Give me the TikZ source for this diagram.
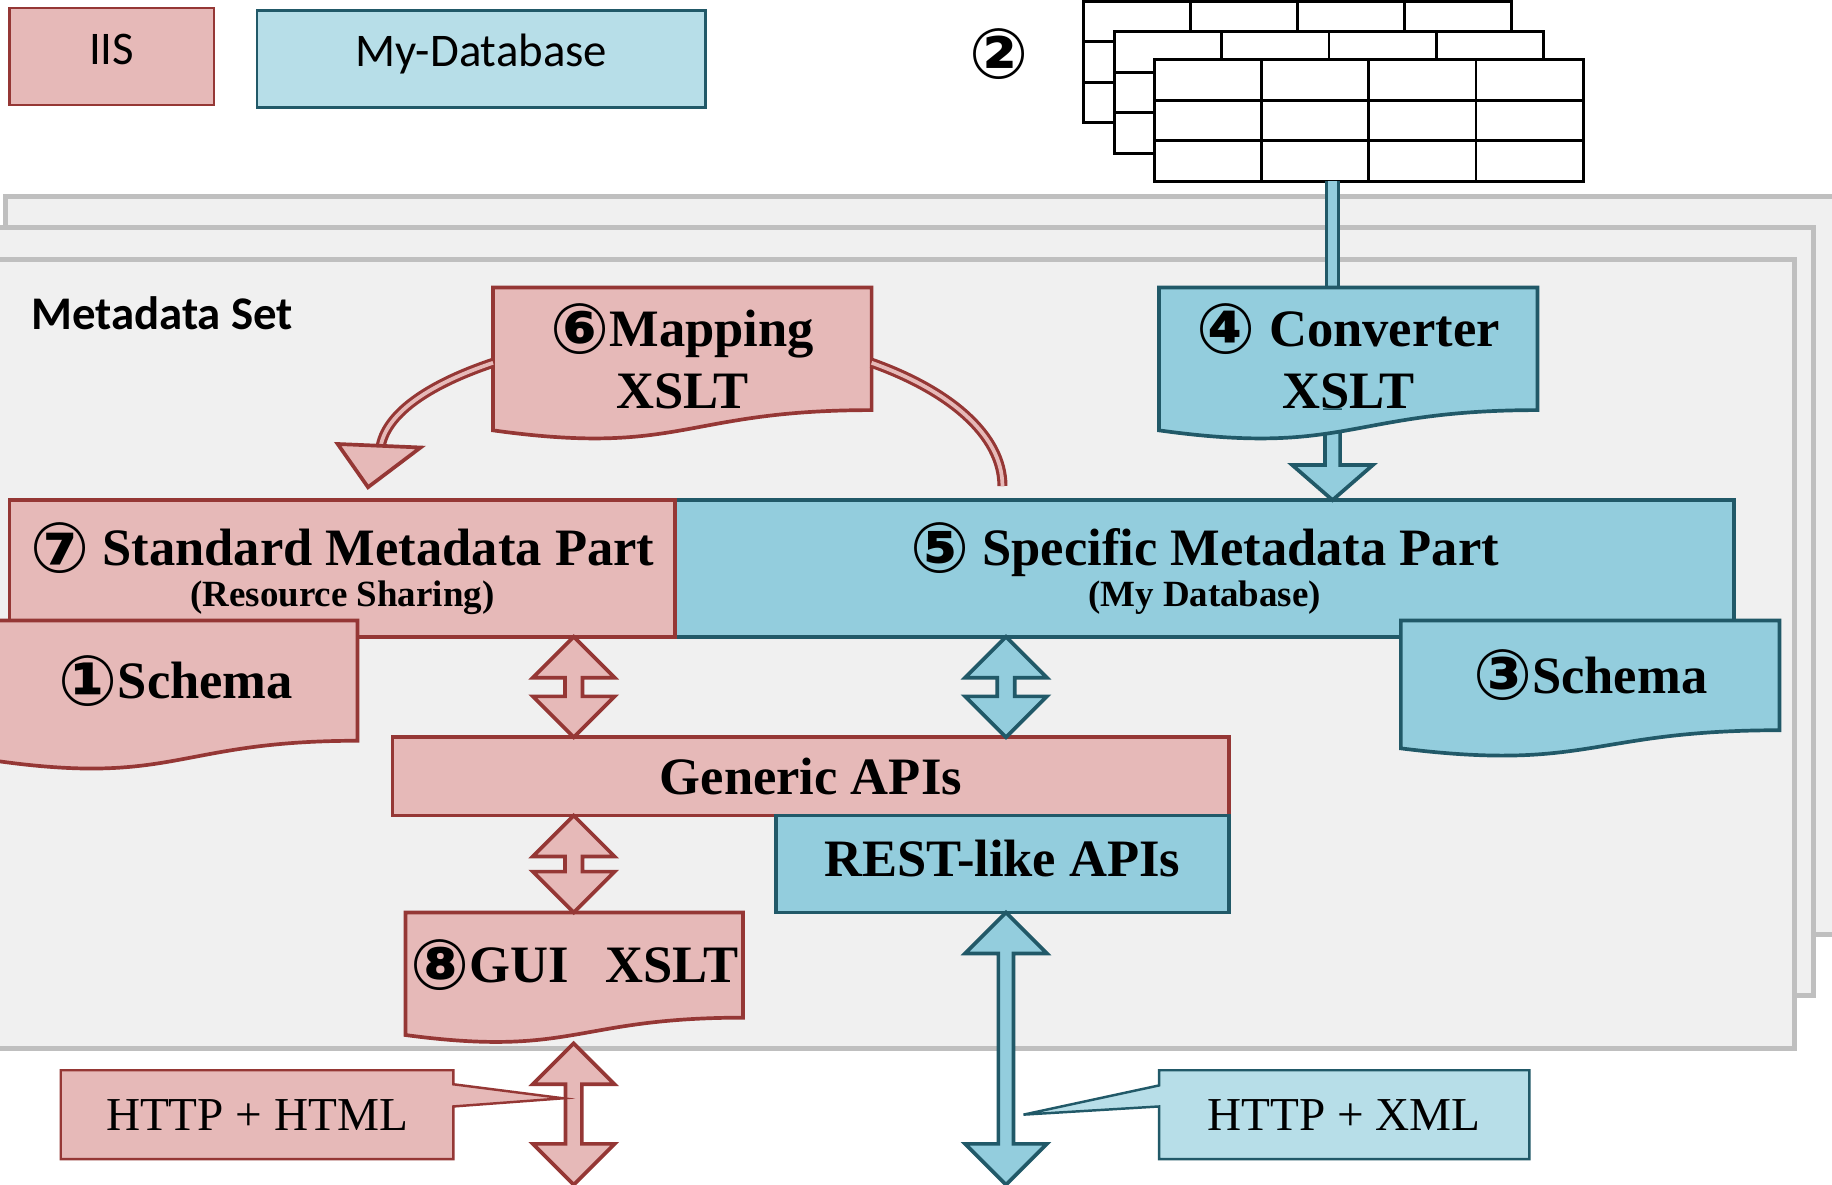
\documentclass[tikz,border=0pt]{standalone}
\usepackage{fontspec}
\setmainfont{Liberation Serif}
\newfontfamily\calibri{Carlito}
\newfontfamily\circfont{DejaVu Sans}
\usetikzlibrary{positioning,calc}
\definecolor{iispink}{HTML}{E6B9B8}
\definecolor{iisred}{HTML}{953735}
\definecolor{dbblue}{HTML}{93CDDD}
\definecolor{dbline}{HTML}{215968}
\definecolor{dblight}{HTML}{B7DEE8}
\definecolor{sheetfill}{HTML}{F0F0F0}
\definecolor{sheetline}{HTML}{BFBFBF}
\newcommand\bigtxt{\fontsize{12.8pt}{15pt}\selectfont\bfseries}
\newcommand\subtxt{\fontsize{9pt}{10pt}\selectfont\bfseries}
\newcommand\httptxt{\fontsize{11.5pt}{13pt}\selectfont}
\newcommand\legtxt{\calibri\fontsize{11.4pt}{13pt}\selectfont}
\newcommand\num[1]{{\circfont\bfseries\fontsize{17pt}{15pt}\selectfont\raisebox{-1.6pt}{#1}}}
% wavy bottom of a document box: node, fill, line, box height
\newcommand\docwave[4]{%
  \fill[#2] (#1.south east) .. controls (#1.south) and ($(#1.south)+(0,{0.38*#4})$)
    .. ($(#1.south west)+(0,{0.165*#4})$) -- (#1.south west) -- cycle;
  \draw[#3,line width=0.9pt] (#1.north west) -- (#1.north east) -- (#1.south east)
    .. controls (#1.south) and ($(#1.south)+(0,{0.38*#4})$)
    .. ($(#1.south west)+(0,{0.165*#4})$) -- cycle;}
% up-down block arrow: style, top tip, bottom tip, half shaft
\newcommand\dblarrow[4]{%
  \draw[#1] (#2) -- ++(35,35) -- ++({#4-35},0) -- ($(#3)+(#4,-35)$)
    -- ++({35-#4},0) -- (#3) -- ++(-35,-35) -- ++({35-#4},0)
    -- ($(#2)+(-#4,35)$) -- ++({#4-35},0) -- cycle;}

\begin{document}
\begin{tikzpicture}[x=0.1mm,y=-0.1mm,
  plainbox/.style={draw,line width=0.9pt,inner sep=0pt,outer sep=0pt,anchor=north west,align=center},
  iisbox/.style={plainbox,draw=iisred,fill=iispink},
  dbbox/.style={plainbox,draw=dbline,fill=dbblue},
  docbox/.style={inner sep=0pt,outer sep=0pt,anchor=north west,align=center,font=\bigtxt},
  legbox/.style={draw,line width=0.6pt,inner sep=0pt,outer sep=0pt,anchor=north west,
    font=\legtxt,text height=7.3pt,text depth=3.7pt},
  sheet/.style={draw=sheetline,fill=sheetfill,line width=1.2pt},
  gridline/.style={draw=black,line width=0.7pt},
  iisarrow/.style={draw=iisred,fill=iispink,line width=0.9pt},
  dbarrow/.style={draw=dbline,fill=dbblue,line width=0.9pt},
  dbshaft/.style={draw=dbline,double=dbblue,line width=0.3mm,double distance=0.7mm},
  iisbend/.style={draw=iisred,double=iispink,line width=0.27mm,double distance=0.32mm},
  callbox/.style={inner sep=0pt,outer sep=0pt,font=\httptxt,minimum height=7.6mm}]
  \useasboundingbox (0,0) rectangle (1568,1014);
  \clip (0,0) rectangle (1568,1014);
  \fill[white] (0,0) rectangle (1568,1014);

  % legend
  \node[legbox,draw=iisred,fill=iispink,minimum width=17.5mm,minimum height=8.3mm] (legIIS) at (8,7) {IIS};
  \node[legbox,draw=dbline,fill=dblight,minimum width=38.4mm,minimum height=8.3mm] (legDB) at (220,9) {My-Database};
  \node[inner sep=0pt] (num2) at (855,46) {\num{②}};

  % metadata set sheets
  \draw[sheet] (5,168) rectangle (1600,800);
  \draw[sheet] (-10,195) rectangle (1552,852);
  \draw[sheet] (-10,222) rectangle (1536,897);
  \node[anchor=west,inner sep=0pt,font=\legtxt\bfseries] (setName) at (26,268) {Metadata Set};

  % stacked tables
  \foreach \gx/\gy [count=\k] in {927/1, 954/27, 988/51}{
    \node[gridline,fill=white,inner sep=0pt,outer sep=0pt,anchor=north west,
      minimum width=36.7mm,minimum height=10.4mm] (tbl\k) at (\gx,\gy) {};
    \foreach \c in {1,2,3}
      \draw[gridline] ($(tbl\k.north west)+(\c*91.75,0)$) -- ($(tbl\k.south west)+(\c*91.75,0)$);
    \foreach \r in {1,2}
      \draw[gridline] ($(tbl\k.north west)+(0,\r*34.67)$) -- ($(tbl\k.north east)+(0,\r*34.67)$);
  }

  % metadata parts
  \node[dbbox,minimum width=90.6mm,minimum height=11.7mm,font=\bigtxt] (spec) at (578,428)
    {\num{⑤} Specific Metadata Part\\[-5pt]{\subtxt (My Database)}};
  \node[iisbox,minimum width=57mm,minimum height=11.7mm,font=\bigtxt,
    left=0pt of spec.north west,anchor=north east] (std)
    {\num{⑦} Standard Metadata Part\\[-5pt]{\subtxt (Resource Sharing)}};

  % converter
  \coordinate (xConv) at (1140.5,0);
  \node[docbox,fill=dbblue,minimum width=32.4mm,minimum height=10.5mm] (conv) at (992,246)
    {\rule{0pt}{14pt}\num{④} Converter\\XSLT};
  \draw[dbshaft] (xConv |- tbl3.south) -- (xConv |- conv.north);
  \draw[dbarrow] ($(xConv |- conv.south)+(-6.5,0)$) -- ($(xConv |- spec.north)+(-6.5,-30)$)
    -- ++(-28,0) -- (xConv |- spec.north) -- ++(34.5,-30) -- ++(-28,0)
    -- ($(xConv |- conv.south)+(6.5,0)$) -- cycle;
  \docwave{conv}{dbblue}{dbline}{105}

  % mapping
  \node[docbox,fill=iispink,minimum width=32.4mm,minimum height=10.5mm] (map) at (422,246)
    {\rule{0pt}{14pt}\num{⑥}Mapping\\XSLT};
  \docwave{map}{iispink}{iisred}{105}
  \coordinate (mapTip) at (326,381);
  \coordinate (mapEnd) at (858,416);
  \draw[iisbend] ($(map.west)+(0,12)$) .. controls (370,328) and (332,352) .. (mapTip);
  \draw[iisarrow] ($(mapTip)+(-37,-1)$) -- ($(mapTip)+(34,2)$) -- ($(mapTip)+(-11,36)$) -- cycle;
  \draw[iisbend] ($(map.east)+(0,12)$) .. controls (812,334) and (858,372) .. (mapEnd);

  % schemas
  \node[docbox,fill=iispink,minimum width=31.1mm,minimum height=10.3mm] (sch1) at (-5,531) {\num{①}Schema};
  \docwave{sch1}{iispink}{iisred}{103}
  \node[docbox,fill=dbblue,minimum width=32.4mm,minimum height=9.4mm] (sch3) at (1199,531) {\num{③}Schema};
  \docwave{sch3}{dbblue}{dbline}{94}

  % APIs
  \node[iisbox,minimum width=71.6mm,minimum height=6.7mm,font=\bigtxt] (gen) at (336,631) {Generic APIs};
  \node[dbbox,minimum width=38.8mm,minimum height=8.3mm,font=\bigtxt,text height=8.7pt,text depth=2.6pt,
    below=0pt of gen.south east,anchor=north east] (rest) {REST-like APIs};
  \coordinate (xStd) at (491,0);
  \coordinate (xSpec) at (861,0);
  \dblarrow{iisarrow}{xStd |- std.south}{xStd |- gen.north}{7.5}
  \dblarrow{dbarrow}{xSpec |- spec.south}{xSpec |- gen.north}{7.5}

  % gui
  \node[docbox,fill=iispink,minimum width=28.9mm,minimum height=9mm] (gui) at (347,781)
    {\num{⑧}GUI\hspace{0.7em}XSLT};
  \docwave{gui}{iispink}{iisred}{90}
  \dblarrow{iisarrow}{xStd |- gen.south}{xStd |- gui.north}{7.5}

  % outside access
  \coordinate (guiOut) at ($(xStd |- gui.south)+(0,22)$);
  \coordinate (outL) at (491,1014);
  \coordinate (outR) at (861,1014);
  \dblarrow{iisarrow}{guiOut}{outL}{7}
  \dblarrow{dbarrow}{xSpec |- rest.south}{outR}{6.5}

  % callouts
  \coordinate (htmlTip) at (482,940);
  \coordinate (xmlTip) at (876,954);
  \node[callbox,fill=iispink,minimum width=33.6mm] (html) at (220,954) {HTTP + HTML};
  \fill[iispink] ($(html.north east)+(-3,12)$) -- (htmlTip) -- ($(html.north east)+(-3,31)$) -- cycle;
  \draw[iisred,line width=0.6pt] (html.north west) -- (html.north east) -- ($(html.north east)+(0,12)$)
    -- (htmlTip) -- ($(html.north east)+(0,31)$) -- (html.south east) -- (html.south west) -- cycle;
  \node[callbox,fill=dblight,minimum width=31.7mm] (xml) at (1150.5,954) {HTTP + XML};
  \fill[dblight] ($(xml.north west)+(3,13)$) -- (xmlTip) -- ($(xml.north west)+(3,31)$) -- cycle;
  \draw[dbline,line width=0.6pt] (xml.north west) -- ($(xml.north west)+(0,13)$) -- (xmlTip)
    -- ($(xml.north west)+(0,31)$) -- (xml.south west) -- (xml.south east) -- (xml.north east) -- cycle;
\end{tikzpicture}
\end{document}
